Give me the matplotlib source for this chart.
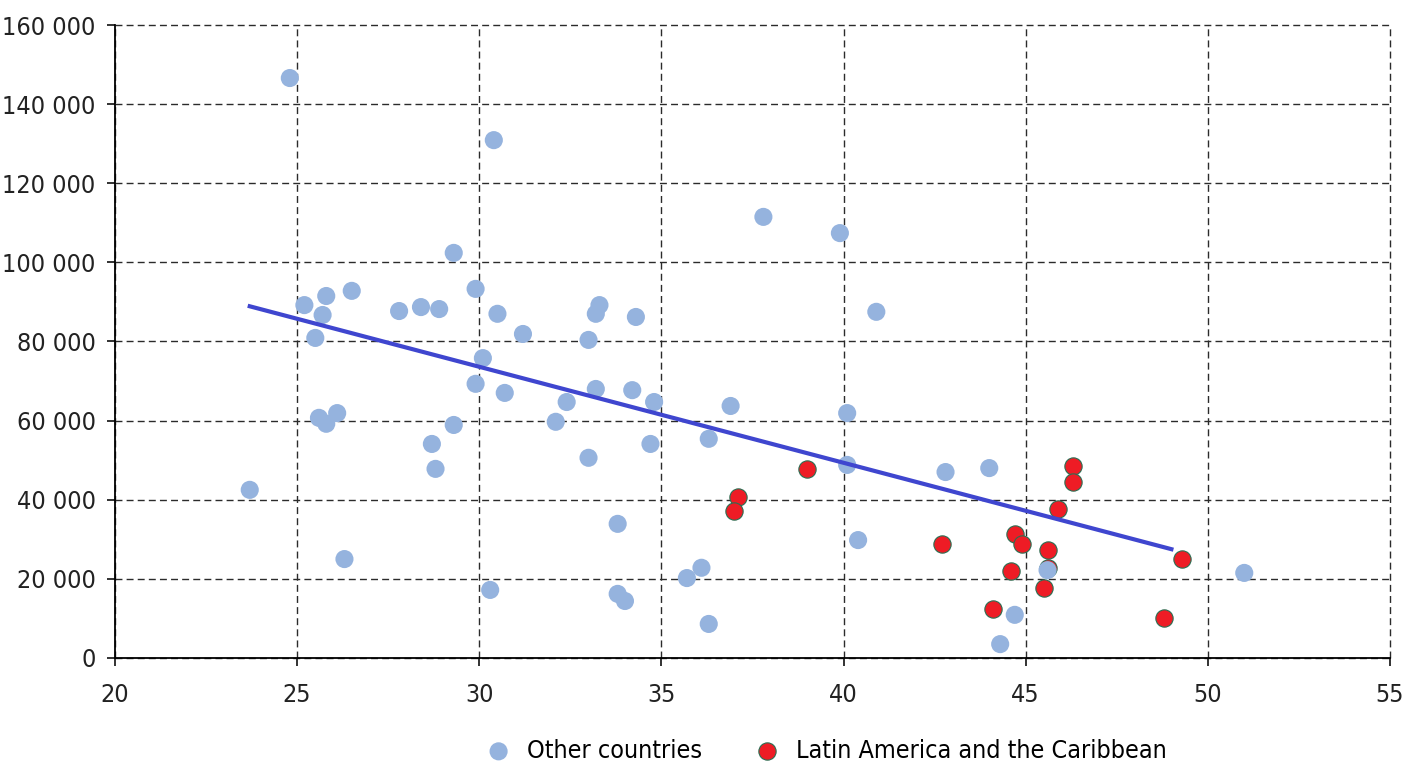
import matplotlib.pyplot as plt
from matplotlib import font_manager
from matplotlib.ticker import FuncFormatter

# narrow font if available, else Roboto
cond = font_manager.findfont(font_manager.FontProperties(family='DejaVu Sans', stretch='condensed'))
if 'Condensed' in cond:
    plt.rcParams['font.family'] = ['DejaVu Sans']
    plt.rcParams['font.stretch'] = 'condensed'
    fs = 18
else:
    plt.rcParams['font.family'] = ['Roboto', 'DejaVu Sans']
    fs = 17

# other countries
other_x = [23.7, 24.8, 25.2, 25.8, 25.7, 25.5, 26.5, 25.6, 25.8, 26.1, 26.3,
           27.8, 28.4, 28.9, 29.3, 28.7, 28.8, 29.3, 29.9, 30.4, 30.5, 30.1,
           29.9, 30.7, 30.3, 31.2, 33.0, 33.3, 33.2, 34.3, 33.2, 32.4, 32.1,
           33.0, 34.2, 34.8, 34.7, 33.8, 33.8, 34.0, 35.7, 36.1, 36.3, 36.3,
           36.9, 37.8, 39.9, 40.9, 40.1, 40.1, 40.4, 42.8, 44.0, 44.3, 44.7,
           45.6, 51.0]
other_y = [42500, 146600, 89200, 91500, 86700, 80900, 92800, 60700, 59200,
           61900, 25000, 87700, 88700, 88200, 102400, 54100, 47800, 58900,
           93300, 130900, 87000, 75800, 69300, 67000, 17200, 81900, 80400,
           89200, 87000, 86200, 68000, 64700, 59700, 50600, 67700, 64700,
           54100, 33900, 16200, 14400, 20200, 22800, 55400, 8600, 63700,
           111500, 107400, 87500, 61900, 48800, 29800, 47000, 48000, 3500,
           10900, 22200, 21500]

# Latin America and the Caribbean
lac_x = [37.1, 37.0, 39.0, 42.7, 44.1, 44.6, 44.7, 44.9, 45.6, 45.6, 45.5,
         45.9, 46.3, 46.3, 48.8, 49.3]
lac_y = [40700, 37200, 47800, 28800, 12400, 22000, 31300, 28800, 27300,
         22800, 17700, 37700, 48500, 44500, 10100, 25000]

# trend line end points
trend_x = [23.7, 49.0]
trend_y = [88900, 27500]

fig = plt.figure(figsize=(14.07, 7.70), dpi=100)
ax = fig.add_axes([0.0817, 0.1455, 0.9062, 0.822])

ax.scatter(lac_x, lac_y, s=155, color='#ee1c25', edgecolors='#2a6e52',
           linewidths=0.8, zorder=3, label='Latin America and the Caribbean')
ax.scatter(other_x, other_y, s=170, color='#95b3de', edgecolors='none',
           zorder=3, label='Other countries')
ax.plot(trend_x, trend_y, color='#3f46cf', lw=3, zorder=4)

ax.set_xlim(20, 55)
ax.set_ylim(0, 160000)
ax.set_xticks(range(20, 56, 5))
ax.set_yticks(range(0, 160001, 20000))
ax.yaxis.set_major_formatter(FuncFormatter(lambda v, p: f'{int(v):,}'.replace(',', ' ')))

ax.grid(True, color='#2b2b2b', linestyle=(0, (5, 3)), lw=1.0)
ax.set_axisbelow(True)
for gl in ax.get_xgridlines() + ax.get_ygridlines():
    gl.set_clip_on(False)
for side in ['top', 'right']:
    ax.spines[side].set_visible(False)
ax.spines['left'].set_linewidth(1.3)
ax.spines['bottom'].set_linewidth(1.3)
ax.tick_params(axis='both', labelsize=fs, length=6, width=1.3,
               colors='#222222')
ax.tick_params(axis='x', pad=12)
ax.tick_params(axis='y', pad=8)

h, l = ax.get_legend_handles_labels()
fig.legend(h[::-1], l[::-1], loc='lower center', bbox_to_anchor=(0.583, -0.02),
           ncol=2, frameon=False, fontsize=fs, handletextpad=0.15,
           columnspacing=1.6, markerscale=1.0)

fig.savefig('out.png', dpi=100)
